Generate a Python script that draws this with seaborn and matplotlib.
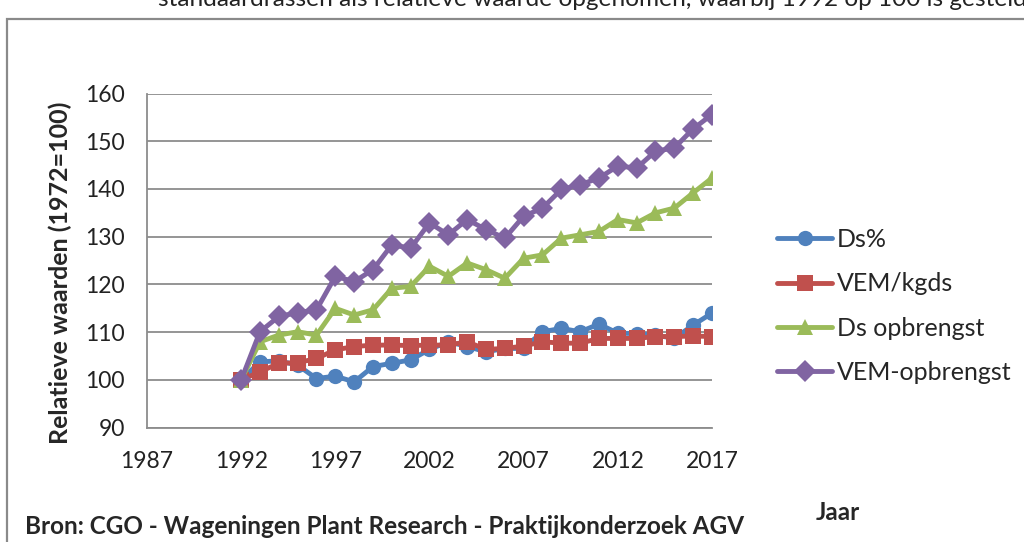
import matplotlib
matplotlib.use("Agg")
import matplotlib.pyplot as plt
import matplotlib.patches as mpatches
import seaborn as sns
import pandas as pd

years = list(range(1992, 2018))
ds_pct = [100.0, 103.8, 104.0, 103.1, 100.3, 100.8, 99.6, 102.8, 103.5, 104.2,
          106.4, 108.0, 107.0, 105.9, 106.6, 106.6, 110.1, 110.8, 110.1, 111.7,
          109.8, 109.7, 109.4, 108.7, 111.5, 114.0]
vem_kgds = [100.0, 101.7, 103.5, 103.6, 104.5, 106.3, 107.0, 107.3, 107.3, 107.2,
            107.3, 107.3, 108.0, 106.4, 106.6, 107.1, 108.0, 107.7, 107.7, 108.7,
            108.7, 108.7, 109.1, 109.1, 109.2, 109.1]
ds_opbr = [100.0, 108.0, 109.4, 110.1, 109.4, 115.0, 113.6, 114.7, 119.2, 119.6,
           123.8, 121.7, 124.5, 123.1, 121.3, 125.5, 126.2, 129.7, 130.4, 131.1,
           133.6, 132.9, 135.0, 136.0, 139.2, 142.3]
vem_opbr = [100.0, 110.1, 113.3, 114.1, 114.7, 121.7, 120.6, 123.1, 128.3, 127.6,
            132.9, 130.4, 133.6, 131.5, 129.7, 134.3, 136.0, 139.9, 140.9, 142.3,
            144.8, 144.4, 147.9, 148.6, 152.6, 155.6]

series_names = ["Ds%", "VEM/kgds", "Ds opbrengst", "VEM-opbrengst"]
series_values = [ds_pct, vem_kgds, ds_opbr, vem_opbr]
colors = ["#4F81BD", "#C0504D", "#9BBB59", "#8064A2"]
markers = ["o", "s", "^", "D"]
xticks = [1987, 1992, 1997, 2002, 2007, 2012, 2017]
yticks = [90, 100, 110, 120, 130, 140, 150, 160]

rows = []
for name, vals in zip(series_names, series_values):
    for y, v in zip(years, vals):
        rows.append({"Jaar": y, "waarde": v, "serie": name})
df = pd.DataFrame(rows)

sns.set_theme(style="white")
plt.rcParams["font.family"] = ["Lato", "DejaVu Sans"]

fig = plt.figure(figsize=(10.24, 5.42), dpi=100)
ax = fig.add_axes([147/1024, 1-427.7/542, 565/1024, 334.2/542])

sns.lineplot(data=df, x="Jaar", y="waarde", hue="serie", style="serie",
             hue_order=series_names, style_order=series_names,
             palette=colors, markers=markers, dashes=False,
             linewidth=3.5, markersize=11, markeredgewidth=0, ax=ax)

ax.set_xlim(1987, 2017)
ax.set_ylim(90, 160)
ax.set_xticks(xticks)
ax.set_yticks(yticks)
ax.set_xlabel("")
ax.set_ylabel("")
ax.yaxis.grid(True, color="#8c8c8c", linewidth=1.3)
ax.xaxis.grid(False)
ax.set_axisbelow(True)
for s in ["top", "right"]:
    ax.spines[s].set_visible(False)
for s in ["left", "bottom"]:
    ax.spines[s].set_color("#8c8c8c")
    ax.spines[s].set_linewidth(1.3)
ax.tick_params(axis="both", length=0, labelsize=16.5, colors="#222222")
ax.tick_params(axis="y", pad=16)
ax.tick_params(axis="x", pad=17)

handles, labels = ax.get_legend_handles_labels()
leg = ax.legend(handles, labels, loc="center left",
                bbox_to_anchor=(777/1024, 1-306/542),
                bbox_transform=fig.transFigure,
                frameon=False, fontsize=18, handlelength=2.2,
                handletextpad=0.2, labelspacing=0.85,
                borderpad=0, borderaxespad=0)

fig.text(60/1024, 1-272.5/542, "Relatieve waarden (1972=100)", rotation=90,
         ha="center", va="center", fontsize=18, fontweight="bold")
fig.text(838/1024, 1-512/542, "Jaar", ha="center", va="center",
         fontsize=17.5, fontweight="bold")
fig.text(25/1024, 1-526/542,
         "Bron: CGO - Wageningen Plant Research - Praktijkonderzoek AGV",
         ha="left", va="center", fontsize=17.5, fontweight="bold")
fig.text(158/1024, 1-6/542,
         "standaardrassen als relatieve waarde opgenomen, waarbij 1992 op 100 is gesteld.",
         ha="left", va="baseline", fontsize=17.6, color="#222222")

frame = mpatches.Rectangle((7/1024, -0.1), 1.2, 1-19/542+0.1,
                           transform=fig.transFigure, fill=False,
                           edgecolor="#8a8a8a", linewidth=1.6, clip_on=False)
fig.patches.append(frame)

fig.savefig("out.png", dpi=100)
